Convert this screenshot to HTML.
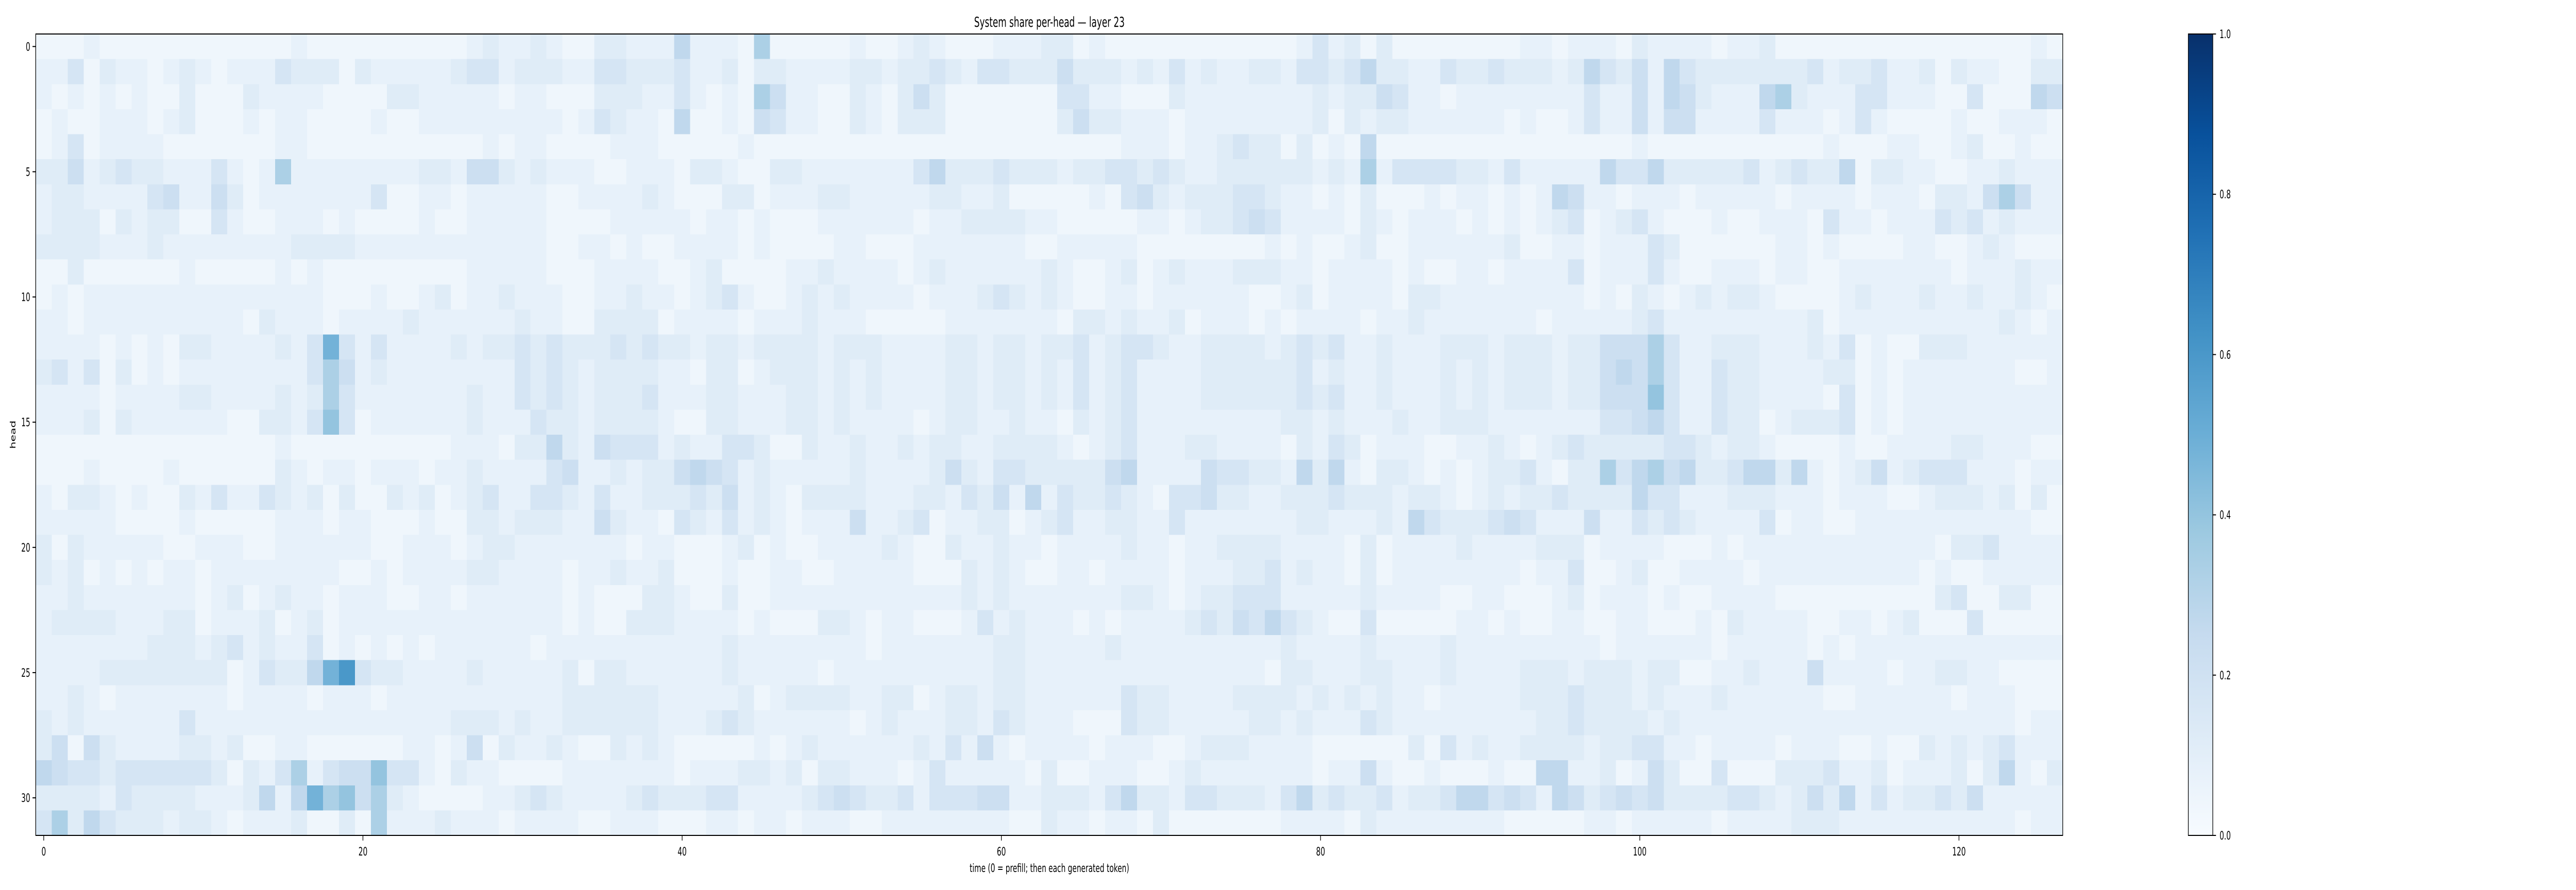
<!DOCTYPE html>
<html><head><meta charset="utf-8"><style>
html,body{margin:0;padding:0;background:#fff;width:100%;height:100%;overflow:hidden;}
svg{display:block;width:100vw;height:100vh;font-family:"DejaVu Sans","Liberation Sans",sans-serif;}
</style></head><body>
<svg id="chart" viewBox="0 0 8000 1728" preserveAspectRatio="none" xmlns="http://www.w3.org/2000/svg">
<defs><linearGradient id="cbgrad" x1="0" y1="1" x2="0" y2="0">
<stop offset="0" stop-color="#f7fbff"/><stop offset="0.125" stop-color="#deebf7"/><stop offset="0.25" stop-color="#c6dbef"/><stop offset="0.375" stop-color="#9ecae1"/><stop offset="0.5" stop-color="#6baed6"/><stop offset="0.625" stop-color="#4292c6"/><stop offset="0.75" stop-color="#2171b5"/><stop offset="0.875" stop-color="#08519c"/><stop offset="1" stop-color="#08306b"/>
</linearGradient></defs>
<rect width="8000" height="1728" fill="#fff"/>
<g id="cells" shape-rendering="crispEdges"></g>
<g id="axes"></g>
<text x="3259" y="52" font-size="27" text-anchor="middle">System share per-head — layer 23</text>
<text x="3259" y="1693" font-size="22" text-anchor="middle">time (0 = prefill; then each generated token)</text>
<text x="0" y="0" font-size="22" text-anchor="middle" transform="translate(48,844) rotate(-90)">head</text>
<rect x="6796" y="66" width="76" height="1556" fill="url(#cbgrad)" stroke="#000" stroke-width="2"/>
<g id="cbticks"></g>
</svg>
<script>
// level codes (one string per head, one digit per time step)
const levelValues = [0.04, 0.08, 0.12, 0.17, 0.22, 0.27, 0.33, 0.40, 0.48, 0.60];
const rows = [
"00010000 00000000 10000000 00012112 10022111 51110600 00010012 10001112 20100000 00000001 31202000 00000110 11102111 10112000 00000000 0000010",
"11302110 12101113 22202111 11233122 21133222 31120221 11122122 32133222 42221213 12112213 32352211 32232221 25324153 22222223 12231120 2110022",
"10101010 02000211 11000022 11111011 00022211 31010641 10021024 20000000 33110002 11111111 21224311 01111111 13114154 21115621 11331110 0300054",
"01001110 12000101 10000100 11111111 10132110 50010431 10021022 20000000 24221110 11111111 20212211 11110100 13114144 11113111 01310000 1001110",
"01301111 00000001 10000000 00001011 00001110 00001000 00000000 00000000 00001110 11232202 01050000 00000000 00001000 00000000 10001100 1200100",
"22412322 11131016 11111111 22144212 11100111 02210022 11111113 52223222 12233232 11222222 12161333 32213111 11533522 22231232 25022110 0112111",
"12211113 41142011 11111300 11011111 00111121 00022011 12211111 22112000 00103421 22233211 01020001 01101015 41101110 11111011 11011102 2146411",
"12220212 20031001 11010000 10011111 00001111 10110100 01111110 11222211 00000110 12234311 11021011 10101012 30123100 01001110 31101113 2312111",
"22221112 11111111 22221111 11111111 00110100 11110100 00110001 11111100 11111000 00000101 00120011 11112001 10111320 00000110 10000110 0121000",
"00200000 01000001 01000000 00011111 00011110 01200001 12111101 21111112 10012012 11122211 01111010 01101111 30111310 01110110 01111111 0111211",
"01011111 11111111 11000100 12011211 10011211 01231001 21211110 11123212 10011011 11110012 01111022 11111111 10102101 21221000 01211121 1211210",
"11011111 11111021 11011112 11111121 10022220 11110111 21110000 01111111 02212112 01110101 11101121 11111101 11112311 11111112 01111111 1112101",
"11110101 02211112 13831311 11212232 32223232 21221222 21222111 12212212 23123321 12222123 23112111 22212221 22444631 12221112 13010022 2111111",
"23130201 01111111 13641211 11111132 32122221 10220122 21212111 12212212 13123111 12222223 12112111 21212221 22454631 13221111 22010111 1111001",
"11110111 12211112 12631111 11121132 32122231 11221112 21212111 12212212 13123111 12222223 23112111 21212221 22444731 13221111 03010111 1111111",
"11120211 11110022 13730111 11121113 22122221 00221112 21211110 12211211 02123111 11111122 12111211 22211111 11334531 13220122 23010111 1111111",
"00000000 00000001 00000000 00111022 52143331 21133200 21121121 22112222 10123111 22111102 13201110 01121012 32222233 21221000 01001111 2211100",
"00010000 10000002 10110111 01121111 34112122 45431211 11121111 24213322 22245111 14332215 25102210 10122310 22635645 22355251 01241233 3111011",
"10221010 02131132 12020021 20123113 32131122 23241210 22221112 21324151 32232103 34221122 23222122 10121223 22225331 11222111 01110012 2212020",
"11111000 01000001 11011000 10022122 21142110 32131210 11141123 01122012 31122113 11111112 21112153 22234311 14113232 11113011 00111111 1111100",
"20211111 00111001 11111001 11012211 11111011 00012010 01111210 02112110 11112110 11222211 11020111 12111122 20111100 01011111 11111110 2231111",
"21201010 11011111 11100101 11122111 10112112 00010011 00111110 00212100 11011110 11122312 11020111 11111011 30012001 11101111 11111101 0011111",
"11211111 11012012 11011100 11011111 10100022 10020011 11111111 11212111 11112210 12233311 11121111 00110001 20111010 01111000 00000002 3002200",
"12222111 22011120 12011111 11111111 10100222 11110100 02210110 00131211 10101111 23243532 10030000 01101001 10011000 10211110 01101200 0300000",
"11111112 22123121 13010101 01111110 11111111 11121111 11110111 11112211 11121111 11111121 11121111 21111111 11011111 10111110 10111111 1111111",
"11112222 22220132 25893221 11121111 12022111 11121111 10111111 11112211 11111111 11111022 11122111 21111222 12221220 01121114 11110112 2110000",
"11210111 11110111 10111011 11111111 12222221 11112012 22211220 12212211 11113221 11122221 21212110 11111222 32221211 12111111 00111111 0111000",
"21211111 13111111 11111111 11222121 12222221 11232111 11101211 12213211 10003221 11112212 11132111 11111122 32222121 11111111 11111111 1111011",
"24042111 12212001 10000001 10140211 21002121 00000101 21111112 13141011 11011100 12221111 00000020 31211222 21223311 01111011 10010021 2123111",
"54332333 33320213 61344733 10211000 01111111 01112212 02211101 31111102 00111001 21111111 01141001 00010055 11201420 03000222 31120111 2025102",
"22221322 22111251 58674621 00001123 21111232 22331111 23432231 33344112 22135221 33222135 23223122 35534315 42343422 22332124 25131223 2411111",
"36253222 12210111 20020611 12111011 11001110 00110110 11100111 11111002 11011020 00000011 11021111 11110000 01101111 10111122 21111111 1111011"
];
const xTicks = [0, 20, 40, 60, 80, 100, 120];
const yTicks = [0, 5, 10, 15, 20, 25, 30];
const cbTicks = [0.0, 0.2, 0.4, 0.6, 0.8, 1.0];

const NS = "http://www.w3.org/2000/svg";
const nCols = 127, nRows = 32;
const plotLeft = 111, plotRight = 6406, plotTop = 66, plotBottom = 1622;
const cw = (plotRight - plotLeft) / nCols, ch = (plotBottom - plotTop) / nRows;
const xPos = t => plotLeft + (t + 0.5) * cw;
const yPos = h => plotTop + (h + 0.5) * ch;
const anchors = [[247,251,255],[222,235,247],[198,219,239],[158,202,225],[107,174,214],[66,146,198],[33,113,181],[8,81,156],[8,48,107]];
function color(v) {
  v = Math.max(0, Math.min(1, v));
  const p = v * 8, i = Math.min(7, Math.floor(p)), f = p - i;
  const a = anchors[i], b = anchors[i + 1];
  return "rgb(" + a.map((c, k) => Math.round(c + (b[k] - c) * f)).join(",") + ")";
}
function mk(tag, attrs, parent) {
  const el = document.createElementNS(NS, tag);
  for (const k in attrs) el.setAttribute(k, attrs[k]);
  parent.appendChild(el);
  return el;
}
const cells = document.getElementById("cells");
rows.forEach((r, h) => {
  const s = r.replace(/\s+/g, "");
  for (let t = 0; t < nCols; t++) {
    const d = s.charCodeAt(t) - 48;
    const v = (d >= 0 && d <= 9) ? levelValues[d] : levelValues[1];
    const el = mk("rect", {x: (xPos(t) - cw / 2).toFixed(2), y: (yPos(h) - ch / 2).toFixed(2), width: (cw + 0.6).toFixed(2), height: (ch + 0.6).toFixed(2), fill: color(v)}, cells);
    
    
  }
});
const axes = document.getElementById("axes");
const frame = mk("rect", {x: plotLeft, y: plotTop, width: plotRight - plotLeft, height: plotBottom - plotTop, fill: "none", stroke: "#000", "stroke-width": 2}, axes);


xTicks.forEach(t => {
  const x = xPos(t);
  const tk = mk("line", {x1: x, x2: x, y1: plotBottom, y2: plotBottom + 10, stroke: "#000", "stroke-width": 2}, axes);
  
  
  const lb = mk("text", {x: x, y: plotBottom + 39, "font-size": 22, "text-anchor": "middle"}, axes);
  lb.textContent = String(t);
  
  
});
yTicks.forEach(h => {
  const y = yPos(h);
  const tk = mk("line", {x1: plotLeft - 10, x2: plotLeft, y1: y, y2: y, stroke: "#000", "stroke-width": 2}, axes);
  
  
  const lb = mk("text", {x: plotLeft - 17, y: y + 8, "font-size": 22, "text-anchor": "end"}, axes);
  lb.textContent = String(h);
  
  
});
const cbg = document.getElementById("cbticks");
const cbTop = 66, cbBottom = 1622, cbRight = 6872;
cbTicks.forEach(v => {
  const y = cbBottom - v * (cbBottom - cbTop);
  const tk = mk("line", {x1: cbRight, x2: cbRight + 10, y1: y, y2: y, stroke: "#000", "stroke-width": 2}, cbg);
  
  
  const lb = mk("text", {x: cbRight + 21, y: y + 8, "font-size": 22}, cbg);
  lb.textContent = v.toFixed(1);
  
  
});
</script>
</body></html>
